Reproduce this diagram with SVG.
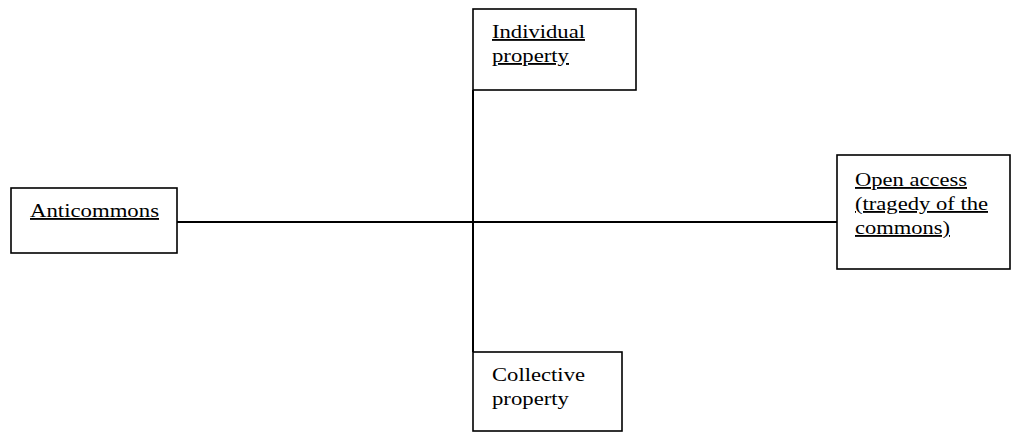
<svg xmlns="http://www.w3.org/2000/svg" width="1011" height="433" viewBox="0 0 1011 433">
<style>
.box{fill:#fff;stroke:#000;stroke-width:1.6}
.ln{stroke:#000;stroke-width:2;fill:none}
text{font-family:"Liberation Serif","Times New Roman",serif;font-size:18.5px;fill:#000}
.u{text-decoration:underline}
</style>
<rect width="1011" height="433" fill="#fff"/>
<g id="connectors">
<line class="ln" x1="177" y1="222" x2="837" y2="222"/>
<line class="ln" x1="473" y1="90" x2="473" y2="352"/>
</g>
<g id="anticommons">
<rect class="box" x="11" y="188" width="166" height="65"/>
<text class="u" x="30" y="217" textLength="129" lengthAdjust="spacingAndGlyphs">Anticommons</text>
</g>
<g id="individual">
<rect class="box" x="473" y="9" width="163" height="81"/>
<text class="u" x="492" y="38" textLength="93" lengthAdjust="spacingAndGlyphs">Individual</text>
<text class="u" x="492" y="62" textLength="77" lengthAdjust="spacingAndGlyphs">property</text>
</g>
<g id="openaccess">
<rect class="box" x="837" y="155" width="173" height="114"/>
<text class="u" x="855" y="186" textLength="112" lengthAdjust="spacingAndGlyphs">Open access</text>
<text class="u" x="855" y="210" textLength="133" lengthAdjust="spacingAndGlyphs">(tragedy of the</text>
<text class="u" x="855" y="234" textLength="95" lengthAdjust="spacingAndGlyphs">commons)</text>
</g>
<g id="collective">
<rect class="box" x="473" y="352" width="149" height="79"/>
<text x="492" y="381" textLength="93" lengthAdjust="spacingAndGlyphs">Collective</text>
<text x="492" y="405" textLength="77" lengthAdjust="spacingAndGlyphs">property</text>
</g>
</svg>
